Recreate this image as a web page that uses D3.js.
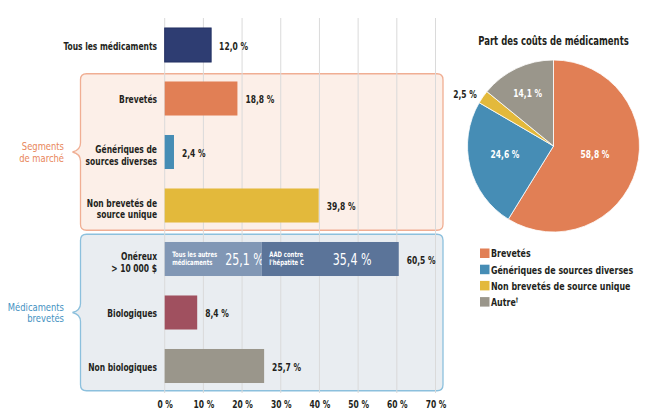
<!DOCTYPE html>
<html><head><meta charset="utf-8">
<script src="https://cdn.jsdelivr.net/npm/d3@7"></script>
<style>
html,body{margin:0;padding:0;background:#fff;}
svg{display:block;}
text{font-family:"DejaVu Sans Condensed","Liberation Sans Narrow",Roboto,sans-serif;fill:#231f20;}
</style></head>
<body>
<svg id="c" width="650" height="413"></svg>
<script>
// ---- data ----
const categories = ["Tous les médicaments","Brevetés","Génériques de sources diverses","Non brevetés de source unique","Onéreux > 10 000 $","Biologiques","Non biologiques"];
const categoryLines = [["Tous les médicaments"],["Brevetés"],["Génériques de","sources diverses"],["Non brevetés de","source unique"],["Onéreux","> 10 000 $"],["Biologiques"],["Non biologiques"]];
const values = [12.0, 18.8, 2.4, 39.8, 60.5, 8.4, 25.7];
const valueLabels = ["12,0 %","18,8 %","2,4 %","39,8 %","60,5 %","8,4 %","25,7 %"];
const barColors = ["#2e3d72","#e17f55","#468db5","#e3b93b","#5b7499","#a0505f","#9a968b"];
const stackParts = [25.1, 35.4];
const stackLabels = ["25,1 %","35,4 %"];
const stackNames = [["Tous les autres","médicaments"],["AAD contre","l'hépatite C"]];
const stackColors = ["#8197b5","#5b7499"];
const groups = [{name:["Segments","de marché"], from:1, to:3, stroke:"#f0ae93", fill:"#fcefe8", text:"#e8865b"},
                {name:["Médicaments","brevetés"], from:4, to:6, stroke:"#8cc0dd", fill:"#e9edf1", text:"#4592c2"}];
const xTicks = [0,10,20,30,40,50,60,70];
const pieNames = ["Brevetés","Génériques de sources diverses","Non brevetés de source unique","Autre"];
const pieValues = [58.8, 24.6, 2.5, 14.1];
const pieLabels = ["58,8 %","24,6 %","2,5 %","14,1 %"];
const pieColors = ["#e17f55","#468db5","#e3b93b","#9a968b"];

const SX = 0.8; // horizontal condensing to mimic the narrow original typeface
const svg = d3.select("#c");
function txt(parent, px, py, s, o){
  o = o || {};
  const t = parent.append("text")
    .attr("transform",`translate(${px},${py}) scale(${o.sx||SX},1)`)
    .attr("text-anchor",o.anchor||"start")
    .attr("font-size",o.size||10)
    .attr("font-weight",o.weight||"bold")
    .text(s);
  if(o.fill) t.style("fill",o.fill);
  return t;
}

const x = d3.scaleLinear().domain([0,70]).range([164.7,435.5]);
const y = d3.scaleBand().domain(categories).range([18.25,392.75]).paddingInner(0.364).paddingOuter(0.182);
const step = y.step();

// group boxes
groups.forEach(g=>{
  const y0 = y(categories[g.from]) - (step - y.bandwidth())/2 + 2;
  const y1 = y(categories[g.to]) + y.bandwidth() + (step - y.bandwidth())/2 - 2;
  const x0 = 80.5, x1 = 443, r = 6, m = (y0+y1)/2;
  const p = `M${x0+r},${y0} H${x1-r} Q${x1},${y0} ${x1},${y0+r} V${y1-r} Q${x1},${y1} ${x1-r},${y1} H${x0+r} Q${x0},${y1} ${x0},${y1-r} V${m+9} Q${x0},${m+2} ${x0-8},${m} Q${x0},${m-2} ${x0},${m-9} V${y0+r} Q${x0},${y0} ${x0+r},${y0} Z`;
  svg.append("path").attr("d",p).attr("fill",g.fill).attr("stroke",g.stroke).attr("stroke-width",1.3);
  g.name.forEach((t,i)=>{
    txt(svg, 64, m + (i-0.5)*11.6 + 4, t, {anchor:"end", size:11, weight:"normal", fill:g.text, sx:0.85});
  });
});

// gridlines
svg.append("g").selectAll("line").data(xTicks).join("line")
  .attr("x1",d=>x(d)).attr("x2",d=>x(d)).attr("y1",18).attr("y2",393)
  .attr("stroke","#dadada").attr("stroke-width",1);

// axis tick labels
const ax = svg.append("g").attr("transform","translate(0,404)")
  .call(d3.axisBottom(x).tickValues(xTicks).tickSize(0).tickFormat(d=>d+" %"));
ax.select(".domain").remove();
ax.selectAll("text").attr("dy","0.35em").attr("y",0).attr("font-size",10.5).attr("font-weight","bold")
  .attr("transform",`scale(${SX},1)`)
  .style("font-family",null).style("fill","#231f20");

// bars
categories.forEach((c,i)=>{
  const yy = y(c), h = y.bandwidth();
  if(i===4){
    let acc=0;
    stackParts.forEach((v,j)=>{
      svg.append("rect").attr("x",x(acc)).attr("y",yy).attr("width",x(acc+v)-x(acc)).attr("height",h)
        .attr("fill",stackColors[j]);
      const sx = x(acc)+7.5;
      stackNames[j].forEach((t,k)=>{
        txt(svg, sx, yy+h/2 - 4 + k*7.8 + 2, t, {size:7.4, fill:"#fff"});
      });
      txt(svg, j===0 ? x(acc)+60.5 : x(acc)+71, yy+h/2+5.5, stackLabels[j], {size:15, weight:"normal", fill:"#fff", sx:0.82});
      acc+=v;
    });
  } else {
    svg.append("rect").attr("x",x(0)).attr("y",yy).attr("width",x(values[i])-x(0)).attr("height",h)
      .attr("fill",barColors[i]).attr("stroke",i===0?"#233163":"none").attr("stroke-width",1);
  }
  txt(svg, x(values[i])+8, yy+h/2+4.5, valueLabels[i], {size:10.5});
  const lines = categoryLines[i];
  lines.forEach((t,k)=>{
    txt(svg, 157, yy+h/2 + 4.5 + (k-(lines.length-1)/2)*11.8 + (lines.length>1?2.5:0), t, {anchor:"end", size:10.5});
  });
});

// pie
const cx = 553.5, cy = 146, R = 86;
txt(svg, cx, 44.5, "Part des coûts de médicaments", {anchor:"middle", size:11.8});
const pie = d3.pie().sort(null).value(d=>d)(pieValues);
const arc = d3.arc().innerRadius(0).outerRadius(R);
const pg = svg.append("g").attr("transform",`translate(${cx},${cy})`);
pg.selectAll("path").data(pie).join("path").attr("d",arc).attr("fill",(d,i)=>pieColors[i])
  .attr("stroke","#fff").attr("stroke-width",0.8);
const labelPos = [[41.5,7.5],[-48.5,7.5],[-88.5,-52.5],[-25.8,-53.5]];
pie.forEach((d,i)=>{
  const pt = labelPos[i];
  txt(pg, pt[0], pt[1]+4, pieLabels[i], {anchor:"middle", size:10.5, fill: i===2 ? "#231f20" : "#fff"});
});

// legend
const lg = svg.append("g");
pieNames.forEach((n,i)=>{
  const ly = 253 + i*16.2;
  lg.append("rect").attr("x",480).attr("y",ly-4.5).attr("width",9.5).attr("height",9.5).attr("fill",pieColors[i]);
  const t = txt(lg, 491, ly+4.3, n, {size:11, weight:"normal"});
  t.style("font-weight","600");
  if(i===3) t.append("tspan").attr("font-size",6.5).attr("dy",-4).text("†");
});
</script>
</body></html>
